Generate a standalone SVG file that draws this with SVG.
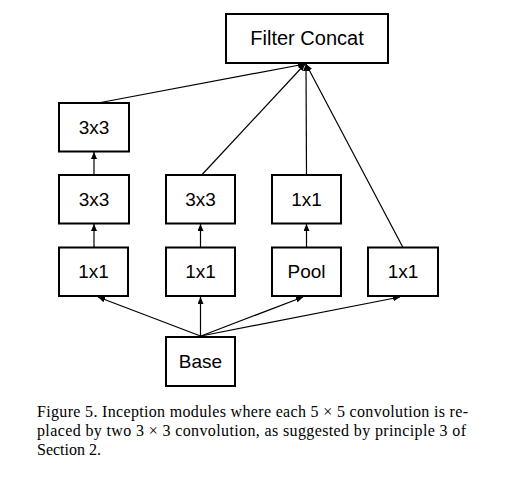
<svg xmlns="http://www.w3.org/2000/svg" width="521" height="480" viewBox="0 0 521 480">
<style>
.box{fill:#fff;stroke:#000;stroke-width:2}
.lbl{font-family:"Liberation Sans",Arial,sans-serif;font-size:19px;text-anchor:middle;fill:#000}
.edge{stroke:#000;stroke-width:1.2;fill:none;marker-end:url(#ah)}
.cap{font-family:"Liberation Serif","Times New Roman",serif;font-size:16px;fill:#000}
</style>
<defs>
<marker id="ah" markerUnits="userSpaceOnUse" markerWidth="8" markerHeight="6" refX="7" refY="3" orient="auto">
<path d="M0,0 L7,3 L0,6 Z" fill="#000"/>
</marker>
</defs>
<rect width="521" height="480" fill="#fff"/>
<g id="connectors">
<line class="edge" x1="94" y1="247" x2="94" y2="224"/>
<line class="edge" x1="94" y1="175" x2="94" y2="152"/>
<line class="edge" x1="200.5" y1="247" x2="200.5" y2="224"/>
<line class="edge" x1="306.5" y1="247" x2="306.5" y2="224"/>
<line class="edge" x1="98" y1="103" x2="305" y2="64"/>
<line class="edge" x1="201.7" y1="175" x2="305" y2="64"/>
<line class="edge" x1="306.5" y1="175" x2="306" y2="64"/>
<line class="edge" x1="402.7" y1="247" x2="306" y2="64"/>
<line class="edge" x1="200.5" y1="336" x2="98" y2="297"/>
<line class="edge" x1="200.5" y1="336" x2="200.5" y2="297"/>
<line class="edge" x1="201" y1="336" x2="303" y2="297"/>
<line class="edge" x1="201" y1="336" x2="400" y2="297"/>
</g>
<g id="concat"><rect class="box" x="226" y="14" width="162" height="49"/><text class="lbl" x="307" y="45" style="font-size:20px">Filter Concat</text></g>
<g id="c1_top"><rect class="box" x="59" y="103" width="70" height="48.5"/><text class="lbl" x="94" y="134">3x3</text></g>
<g id="c1_mid"><rect class="box" x="59" y="175" width="70" height="48.5"/><text class="lbl" x="94" y="206">3x3</text></g>
<g id="c1_bot"><rect class="box" x="59" y="247.5" width="69" height="48.5"/><text class="lbl" x="93.5" y="278">1x1</text></g>
<g id="c2_mid"><rect class="box" x="166" y="175" width="69" height="48.5"/><text class="lbl" x="200.5" y="206">3x3</text></g>
<g id="c2_bot"><rect class="box" x="166" y="247.5" width="69" height="48.5"/><text class="lbl" x="200.5" y="278">1x1</text></g>
<g id="c3_mid"><rect class="box" x="272" y="175" width="69" height="48.5"/><text class="lbl" x="306.5" y="206">1x1</text></g>
<g id="c3_bot"><rect class="box" x="272" y="247.5" width="69" height="48.5"/><text class="lbl" x="306.5" y="278">Pool</text></g>
<g id="c4_bot"><rect class="box" x="368" y="247.5" width="70" height="48.5"/><text class="lbl" x="403" y="278">1x1</text></g>
<g id="base"><rect class="box" x="166" y="337" width="69" height="49"/><text class="lbl" x="200.5" y="368">Base</text></g>
<g id="caption">
<text class="cap" x="37" y="417" textLength="431" lengthAdjust="spacing">Figure 5. Inception modules where each 5 × 5 convolution is re-</text>
<text class="cap" x="37" y="436" textLength="429" lengthAdjust="spacing">placed by two 3 × 3 convolution, as suggested by principle 3 of</text>
<text class="cap" x="37" y="455">Section 2.</text>
</g>
</svg>
